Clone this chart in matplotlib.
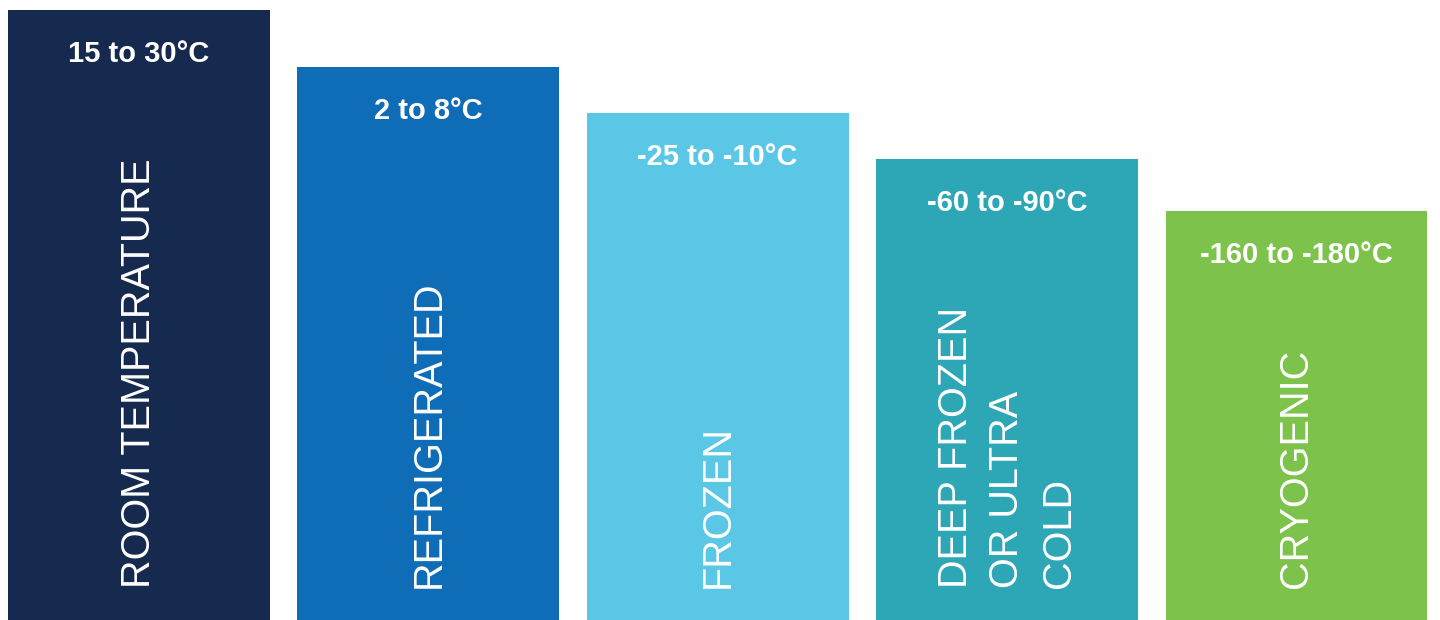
import matplotlib.pyplot as plt

# storage classes, left to right
categories = ['ROOM TEMPERATURE', 'REFRIGERATED', 'FROZEN',
              'DEEP FROZEN\nOR ULTRA\nCOLD', 'CRYOGENIC']
temp_ranges = ['15 to 30°C', '2 to 8°C', '-25 to -10°C',
               '-60 to -90°C', '-160 to -180°C']
# bar heights (visual step-down, arbitrary units)
bar_heights = [610, 553, 507, 461, 409]
colors = ['#16294F', '#0F6CB6', '#5BC7E6', '#2DA6B6', '#7CC24B']

fig = plt.figure(figsize=(14.4, 6.2), dpi=100)
ax = fig.add_axes([0, 0, 1, 1])

x = list(range(len(categories)))
ax.bar(x, bar_heights, width=0.905, color=colors, align='center')

for xi, h, t, name in zip(x, bar_heights, temp_ranges, categories):
    ax.text(xi, h - 44, t, ha='center', va='center', color='white',
            fontsize=21, fontweight='bold', family='Liberation Sans')
    ax.text(xi, 32, name, rotation=90, rotation_mode='anchor',
            ha='left', va='center', multialignment='left',
            color='white', fontsize=28.5, family='Liberation Sans',
            linespacing=1.45)

ax.set_xlim(-0.480, 4.496)
ax.set_ylim(0, 620)
ax.axis('off')

fig.savefig('out.png', dpi=100, facecolor='white')
